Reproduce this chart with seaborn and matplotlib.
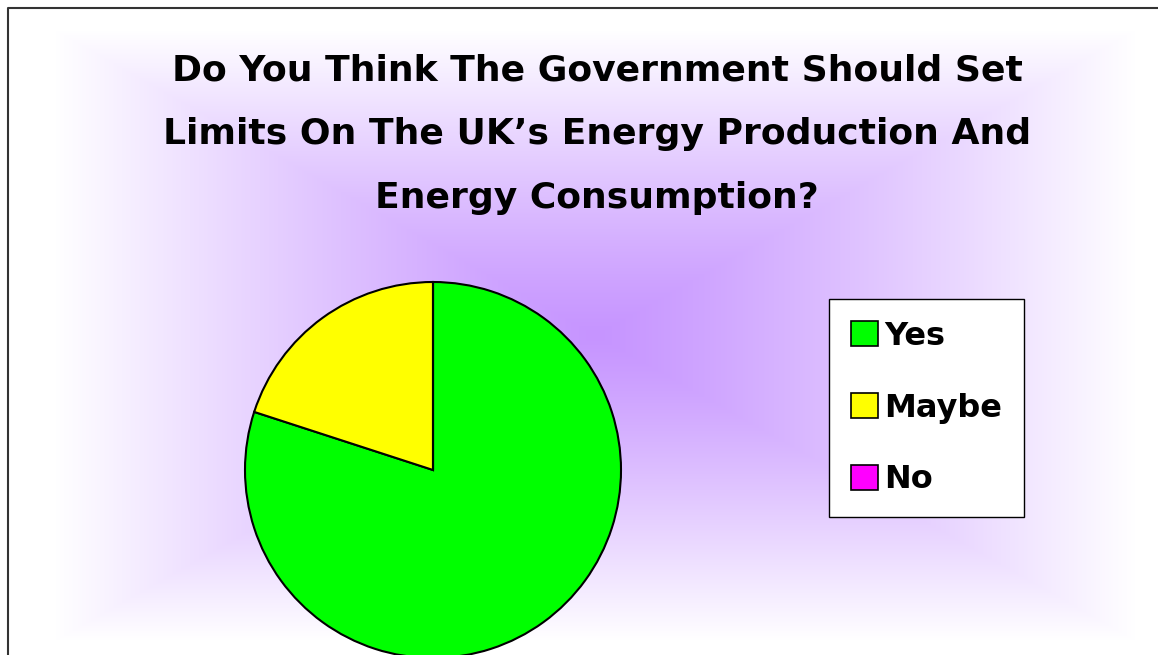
import numpy as np
import matplotlib
matplotlib.use('Agg')
import matplotlib.pyplot as plt
import seaborn as sns
from matplotlib.patches import Patch
from matplotlib.lines import Line2D

# survey answers
answers = ['Yes', 'Maybe', 'No']
share = [80, 20, 0]
colours = ['#00FF00', '#FFFF00', '#FF00FF']

title = ('Do You Think The Government Should Set\n'
         'Limits On The UK\u2019s Energy Production And\n'
         'Energy Consumption?')

sns.set_theme(style='white')
plt.rcParams['font.family'] = ['DejaVu Sans']

W, H = 1158, 655
fig = plt.figure(figsize=(W / 100, H / 100), dpi=100)
fig.patch.set_facecolor('white')

# rectangular "from centre" purple gradient behind everything
bg = fig.add_axes([0, 0, 1, 1])
bg.set_axis_off()
yy, xx = np.mgrid[0:H, 0:W]
cx, cy, hw, hh = 595, 335, 540, 305
t = np.maximum(np.abs(xx - cx) / hw, np.abs(yy - cy) / hh)
t = np.clip(t, 0, 1) ** 1.15
centre = np.array([198, 148, 255]) / 255
img = centre[None, None, :] * (1 - t[..., None]) + t[..., None]
bg.imshow(img, extent=[0, W, H, 0], aspect='auto', interpolation='bilinear')
bg.set_xlim(0, W)
bg.set_ylim(H, 0)
bg.add_line(Line2D([8, 8, W], [H, 8, 8], color='#333333', lw=1.5))

fig.text(597 / W, 1 - 134 / H, title, ha='center', va='center',
         fontsize=26, fontweight='bold', linespacing=2.1, color='black')

# pie
r = 188
px, py = 433, 470
ax = fig.add_axes([(px - r) / W, (H - py - r) / H, 2 * r / W, 2 * r / H])
wedges, _ = ax.pie(share, colors=colours, startangle=90, counterclock=False,
                   wedgeprops=dict(edgecolor='black', linewidth=1.5))
ax.set_xlim(-1, 1)
ax.set_ylim(-1, 1)
ax.set_axis_off()

handles = [Patch(facecolor=c, edgecolor='black', linewidth=1.2) for c in colours]
leg = fig.legend(handles, answers, loc='upper left',
                 bbox_to_anchor=(829 / W, 1 - 299 / H),
                 frameon=True, fancybox=False, edgecolor='black', framealpha=1,
                 prop=dict(size=23, weight='bold'), labelcolor='black',
                 handlelength=0.85, handleheight=0.85, handletextpad=0.2,
                 labelspacing=1.28, borderpad=0.68, borderaxespad=0)
leg.get_frame().set_linewidth(1.0)
leg.get_frame().set_facecolor('white')

fig.savefig('out.png', dpi=100)
